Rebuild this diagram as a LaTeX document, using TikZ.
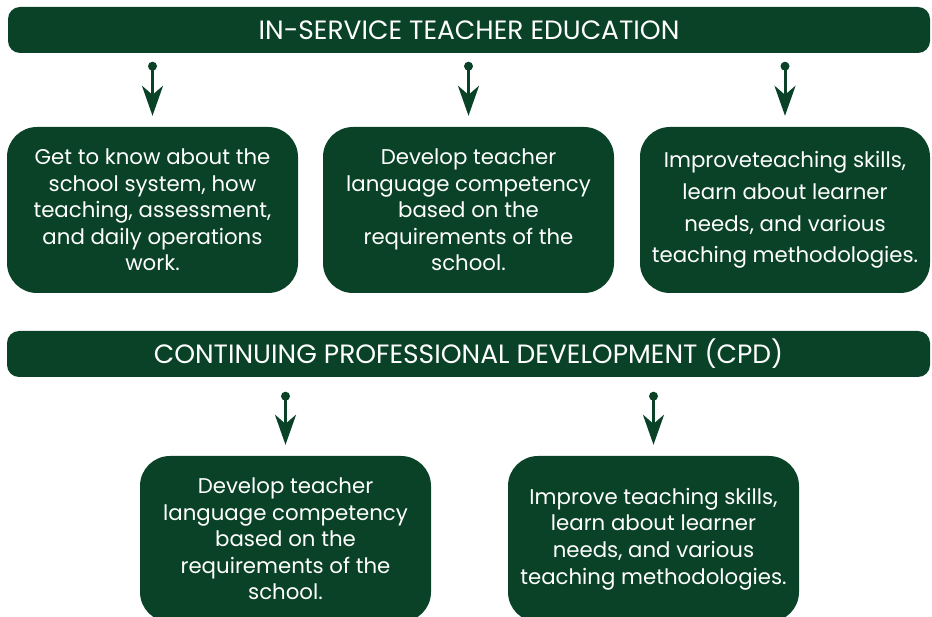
\documentclass[tikz,border=0pt]{standalone}
\usepackage{fontspec}
\setmainfont{Poppins}
\usetikzlibrary{arrows.meta}
\definecolor{forest}{RGB}{9,66,38}
\begin{document}
\begin{tikzpicture}[x=1pt,y=-1pt,
  banner/.style={fill=forest,rounded corners=12pt,text=white,font=\fontsize{26.5}{30}\selectfont},
  card/.style={fill=forest,rounded corners=30pt,text=white,align=center,font=\fontsize{21.3}{26.6}\selectfont},
  down/.style={draw=forest,line width=3pt,-{Stealth[length=30pt,width=21pt,inset=9pt]}},
  dot/.style={fill=forest,circle,inner sep=0pt,minimum size=9pt}]
\useasboundingbox (0,0) rectangle (932,617);
\clip (0,0) rectangle (932,617);
% first banner and its three cards
\node[banner,minimum width=922pt,minimum height=46pt] (ise) at (469,30) {IN-SERVICE TEACHER EDUCATION};
\node[card,minimum width=291pt,minimum height=166pt] (c1) at (152.5,210)
  {Get to know about the\\school system, how\\teaching, assessment,\\and daily operations\\work.};
\node[card,minimum width=291pt,minimum height=166pt] (c2) at (468.5,210)
  {Develop teacher\\language competency\\based on the\\requirements of the\\school.};
\node[card,minimum width=290pt,minimum height=166pt,font=\fontsize{21.3}{31.7}\selectfont] (c3) at (785,210)
  {Improveteaching skills,\\learn about learner\\needs, and various\\teaching methodologies.};
% second banner and its two cards
\node[banner,minimum width=923pt,minimum height=46pt] (cpd) at (468.5,354) {CONTINUING PROFESSIONAL DEVELOPMENT (CPD)};
\node[card,minimum width=291pt,minimum height=166pt] (c4) at (285.5,539)
  {Develop teacher\\language competency\\based on the\\requirements of the\\school.};
\node[card,minimum width=291pt,minimum height=166pt] (c5) at (653.5,539)
  {Improve teaching skills,\\learn about learner\\needs, and various\\teaching methodologies.};
% arrows from the banners to the cards
\foreach \c in {c1,c2,c3}{
  \node[dot] (d\c) at ([yshift=-13pt]ise.south -| \c.north) {};
  \draw[down] (d\c.center) -- ([yshift=11pt]\c.north);
}
\foreach \c in {c4,c5}{
  \node[dot] (d\c) at ([yshift=-19pt]cpd.south -| \c.north) {};
  \draw[down] (d\c.center) -- ([yshift=11pt]\c.north);
}
\end{tikzpicture}
\end{document}
